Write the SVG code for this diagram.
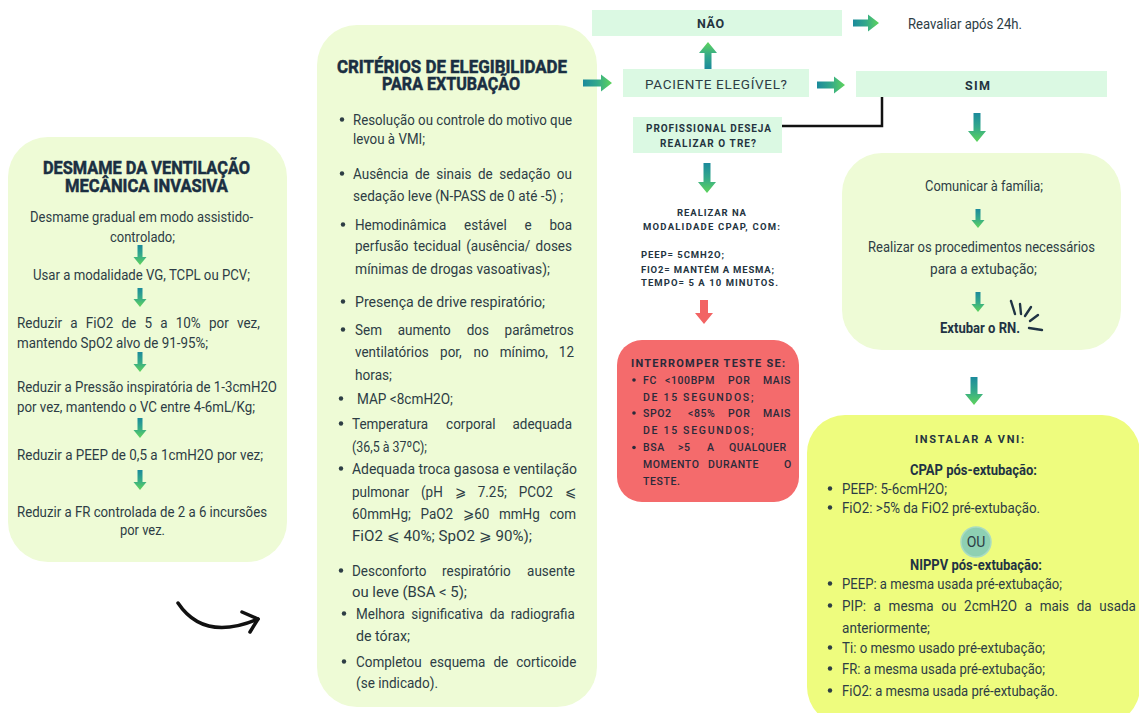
<svg xmlns="http://www.w3.org/2000/svg" width="1139" height="713" viewBox="0 0 1139 713">
<defs>
<linearGradient id="gh" x1="0" y1="0" x2="1" y2="0"><stop offset="0" stop-color="#1b8a9c"/><stop offset="0.5" stop-color="#34a98a"/><stop offset="1" stop-color="#5fd45c"/></linearGradient>
<linearGradient id="gv" x1="0" y1="0" x2="0" y2="1"><stop offset="0" stop-color="#1b8a9c"/><stop offset="0.5" stop-color="#34a98a"/><stop offset="1" stop-color="#5fd45c"/></linearGradient>
<linearGradient id="gu" x1="0" y1="1" x2="0" y2="0"><stop offset="0" stop-color="#1b8a9c"/><stop offset="0.5" stop-color="#34a98a"/><stop offset="1" stop-color="#5fd45c"/></linearGradient>
</defs>
<style>
text{font-family:Roboto,"Liberation Sans",sans-serif;}
.pale{fill:#eefbd6;}
.mint{fill:#dbf9e3;}
.b{font-size:15px;fill:#2d3d45;}
.h{font-size:18px;font-weight:700;fill:#1a2f42;stroke:#1a2f42;stroke-width:0.5;}
.c{font-size:10px;font-weight:700;fill:#24343f;}
.k{font-size:12.5px;font-weight:700;fill:#24343f;}
.r{font-size:10.5px;font-weight:500;fill:#2a2a3a;letter-spacing:0.6px;}
.dot{fill:#2d3d45;}
.ah{fill:url(#gh);}
.av{fill:url(#gv);}
.au{fill:url(#gu);}
</style>
<rect width="1139" height="713" fill="#ffffff"/>

<g id="desmame">
<rect class="pale" x="8" y="137" width="279" height="425" rx="40"/>
<text class="h" x="43" y="174" textLength="207" lengthAdjust="spacingAndGlyphs">DESMAME DA VENTILAÇÃO</text>
<text class="h" x="65" y="192" textLength="163" lengthAdjust="spacingAndGlyphs">MECÂNICA INVASIVA</text>
<text class="b" x="30" y="222" textLength="223" lengthAdjust="spacingAndGlyphs">Desmame gradual em modo assistido-</text>
<text class="b" x="110" y="242" textLength="65" lengthAdjust="spacingAndGlyphs">controlado;</text>
<text class="b" x="33" y="280" textLength="217" lengthAdjust="spacingAndGlyphs">Usar a modalidade VG, TCPL ou PCV;</text>
<text class="b" transform="scale(0.9 1)" y="328"><tspan x="18.89">Reduzir</tspan><tspan x="78.02">a</tspan><tspan x="95.26">FiO2</tspan><tspan x="135.02">de</tspan><tspan x="160.5">5</tspan><tspan x="178.01">a</tspan><tspan x="195.24">10%</tspan><tspan x="232.18">por</tspan><tspan x="263.29">vez,</tspan></text>
<text class="b" x="17" y="348" textLength="191" lengthAdjust="spacingAndGlyphs">mantendo SpO2 alvo de 91-95%;</text>
<text class="b" x="17" y="392" textLength="260" lengthAdjust="spacingAndGlyphs">Reduzir a Pressão inspiratória de 1-3cmH2O</text>
<text class="b" x="17" y="412" textLength="238" lengthAdjust="spacingAndGlyphs">por vez, mantendo o VC entre 4-6mL/Kg;</text>
<text class="b" x="17" y="460" textLength="246" lengthAdjust="spacingAndGlyphs">Reduzir a PEEP de 0,5 a 1cmH2O por vez;</text>
<text class="b" x="17" y="517" textLength="250" lengthAdjust="spacingAndGlyphs">Reduzir a FR controlada de 2 a 6 incursões</text>
<text class="b" x="120" y="535" textLength="45" lengthAdjust="spacingAndGlyphs">por vez.</text>
<path class="av" d="M137.5,245 L142.5,245 L142.5,257 L146.5,257 L140,265 L133.5,257 L137.5,257Z"/>
<path class="av" d="M137.5,288 L142.5,288 L142.5,299 L146.5,299 L140,307 L133.5,299 L137.5,299Z"/>
<path class="av" d="M137.5,352 L142.5,352 L142.5,364 L146.5,364 L140,372 L133.5,364 L137.5,364Z"/>
<path class="av" d="M137.5,418 L142.5,418 L142.5,430 L146.5,430 L140,438 L133.5,430 L137.5,430Z"/>
<path class="av" d="M137.5,470 L142.5,470 L142.5,482 L146.5,482 L140,490 L133.5,482 L137.5,482Z"/>
</g>

<g id="criterios">
<rect class="pale" x="317" y="25" width="280" height="682" rx="40"/>
<text class="h" x="337" y="73" textLength="230" lengthAdjust="spacingAndGlyphs">CRITÉRIOS DE ELEGIBILIDADE</text>
<text class="h" x="382" y="90" textLength="138" lengthAdjust="spacingAndGlyphs">PARA EXTUBAÇÃO</text>
<circle class="dot" cx="342" cy="119.5" r="2.2"/>
<text class="b" x="353" y="125" textLength="219" lengthAdjust="spacingAndGlyphs">Resolução ou controle do motivo que</text>
<text class="b" x="353" y="144" textLength="72" lengthAdjust="spacingAndGlyphs">levou à VMI;</text>
<circle class="dot" cx="342" cy="173.5" r="2.2"/>
<text class="b" transform="scale(0.9 1)" y="179"><tspan x="392.22">Ausência</tspan><tspan x="461.09">de</tspan><tspan x="484.69">sinais</tspan><tspan x="531.1">de</tspan><tspan x="554.7">sedação</tspan><tspan x="618.76">ou</tspan></text>
<text class="b" x="353" y="201" textLength="210" lengthAdjust="spacingAndGlyphs">sedação leve (N-PASS de 0 até -5) ;</text>
<circle class="dot" cx="343" cy="224.5" r="2.2"/>
<text class="b" transform="scale(0.9 1)" y="230"><tspan x="394.44">Hemodinâmica</tspan><tspan x="515.69">estável</tspan><tspan x="582.89">e</tspan><tspan x="610.43">boa</tspan></text>
<text class="b" transform="scale(0.9 1)" y="251"><tspan x="394.44">perfusão</tspan><tspan x="459.5">tecidual</tspan><tspan x="518.06">(ausência/</tspan><tspan x="595.11">doses</tspan></text>
<text class="b" x="355" y="274" textLength="195" lengthAdjust="spacingAndGlyphs">mínimas de drogas vasoativas);</text>
<circle class="dot" cx="343" cy="301.5" r="2.2"/>
<text class="b" x="355" y="307" textLength="190" lengthAdjust="spacingAndGlyphs">Presença de drive respiratório;</text>
<circle class="dot" cx="343" cy="329.5" r="2.2"/>
<text class="b" transform="scale(0.9 1)" y="335"><tspan x="394.44">Sem</tspan><tspan x="441.84">aumento</tspan><tspan x="518.51">dos</tspan><tspan x="560.66">parâmetros</tspan></text>
<text class="b" transform="scale(0.9 1)" y="357"><tspan x="394.44">ventilatórios</tspan><tspan x="489">por,</tspan><tspan x="526.23">no</tspan><tspan x="555.32">mínimo,</tspan><tspan x="620.92">12</tspan></text>
<text class="b" x="355" y="380" textLength="37" lengthAdjust="spacingAndGlyphs">horas;</text>
<circle class="dot" cx="341" cy="398.5" r="2.2"/>
<text class="b" x="357" y="404" textLength="96" lengthAdjust="spacingAndGlyphs">MAP &lt;8cmH2O;</text>
<circle class="dot" cx="341" cy="423.5" r="2.2"/>
<text class="b" transform="scale(0.9 1)" y="429"><tspan x="391.11">Temperatura</tspan><tspan x="495.66">corporal</tspan><tspan x="569.46">adequada</tspan></text>
<text class="b" x="352" y="452" textLength="75" lengthAdjust="spacingAndGlyphs">(36,5 à 37ºC);</text>
<circle class="dot" cx="341" cy="468.5" r="2.2"/>
<text class="b" x="352" y="474" textLength="225" lengthAdjust="spacingAndGlyphs">Adequada troca gasosa e ventilação</text>
<text class="b" transform="scale(0.9 1)" y="497"><tspan x="391.11">pulmonar</tspan><tspan x="467.74">(pH</tspan><tspan x="505.1">⩾</tspan><tspan x="530.78">7.25;</tspan><tspan x="576.3">PCO2</tspan><tspan x="627.41">⩽</tspan></text>
<text class="b" transform="scale(0.9 1)" y="519"><tspan x="391.11">60mmHg;</tspan><tspan x="467.23">PaO2</tspan><tspan x="514.3">⩾60</tspan><tspan x="554.42">mmHg</tspan><tspan x="610.5">com</tspan></text>
<text class="b" x="352" y="541" textLength="180" lengthAdjust="spacingAndGlyphs">FiO2 ⩽ 40%; SpO2 ⩾ 90%);</text>
<circle class="dot" cx="341" cy="570.5" r="2.2"/>
<text class="b" transform="scale(0.9 1)" y="576"><tspan x="391.11">Desconforto</tspan><tspan x="491.24">respiratório</tspan><tspan x="585.68">ausente</tspan></text>
<text class="b" x="352" y="597" textLength="115" lengthAdjust="spacingAndGlyphs">ou leve (BSA &lt; 5);</text>
<circle class="dot" cx="344" cy="613.5" r="2.2"/>
<text class="b" transform="scale(0.9 1)" y="619"><tspan x="395.56">Melhora</tspan><tspan x="456.96">significativa</tspan><tspan x="544.18">da</tspan><tspan x="567.44">radiografia</tspan></text>
<text class="b" x="356" y="641" textLength="54" lengthAdjust="spacingAndGlyphs">de tórax;</text>
<circle class="dot" cx="344" cy="661.5" r="2.2"/>
<text class="b" transform="scale(0.9 1)" y="667"><tspan x="395.56">Completou</tspan><tspan x="477.64">esquema</tspan><tspan x="548.26">de</tspan><tspan x="573.54">corticoide</tspan></text>
<text class="b" x="356" y="688" textLength="82" lengthAdjust="spacingAndGlyphs">(se indicado).</text>
</g>

<g id="nao">
<rect class="mint" x="592" y="10" width="250" height="26"/>
<text class="k" x="697" y="28" textLength="27" lengthAdjust="spacing">NÃO</text>
</g>
<g id="reavaliar">
<text class="b" style="font-size:14px" x="908" y="29" textLength="114" lengthAdjust="spacingAndGlyphs">Reavaliar após 24h.</text>
</g>
<g id="elegivel">
<rect class="mint" x="623" y="69" width="186" height="28"/>
<text style="font-size:13.5px;fill:#2d3d45" x="645" y="89" textLength="142" lengthAdjust="spacing">PACIENTE ELEGÍVEL?</text>
</g>
<g id="sim">
<rect class="mint" x="856" y="71" width="251" height="26"/>
<text class="k" x="965" y="90" textLength="25" lengthAdjust="spacing">SIM</text>
</g>
<g id="tre">
<rect class="mint" x="633" y="117" width="149" height="36"/>
<text class="c" x="646" y="132" textLength="125" lengthAdjust="spacing">PROFISSIONAL DESEJA</text>
<text class="c" x="660" y="147" textLength="96" lengthAdjust="spacing">REALIZAR O TRE?</text>
</g>
<g id="cpap-teste">
<text class="c" style="font-size:9.5px" x="677" y="216" textLength="69" lengthAdjust="spacing">REALIZAR NA</text>
<text class="c" style="font-size:9.5px" x="643" y="230" textLength="137" lengthAdjust="spacing">MODALIDADE CPAP, COM:</text>
<text class="c" style="font-size:9.5px" x="641" y="258" textLength="83" lengthAdjust="spacing">PEEP= 5CMH2O;</text>
<text class="c" style="font-size:9.5px" x="641" y="273" textLength="133" lengthAdjust="spacing">FIO2= MANTÉM A MESMA;</text>
<text class="c" style="font-size:9.5px" x="641" y="286" textLength="137" lengthAdjust="spacing">TEMPO= 5 A 10 MINUTOS.</text>
</g>
<g id="interromper">
<rect x="617" y="340" width="182" height="162" rx="25" fill="#f46b6c"/>
<text class="c" style="font-size:11px;fill:#2a2a3a" x="631" y="367" textLength="154" lengthAdjust="spacing">INTERROMPER TESTE SE:</text>
<circle cx="634" cy="380" r="1.8" fill="#2a2a3a"/>
<text class="r" y="384"><tspan x="643">FC</tspan><tspan x="665">&lt;100BPM</tspan><tspan x="728">POR</tspan><tspan x="763">MAIS</tspan></text>
<text class="r" x="643" y="401" textLength="111" lengthAdjust="spacing">DE 15 SEGUNDOS;</text>
<circle cx="634" cy="413" r="1.8" fill="#2a2a3a"/>
<text class="r" y="417"><tspan x="643">SPO2</tspan><tspan x="688">&lt;85%</tspan><tspan x="728">POR</tspan><tspan x="763">MAIS</tspan></text>
<text class="r" x="643" y="434" textLength="111" lengthAdjust="spacing">DE 15 SEGUNDOS;</text>
<circle cx="634" cy="447.5" r="1.8" fill="#2a2a3a"/>
<text class="r" y="451"><tspan x="643">BSA</tspan><tspan x="678">&gt;5</tspan><tspan x="707">A</tspan><tspan x="729">QUALQUER</tspan></text>
<text class="r" y="468"><tspan x="643">MOMENTO</tspan><tspan x="708">DURANTE</tspan><tspan x="784">O</tspan></text>
<text class="r" x="643" y="485">TESTE.</text>
</g>

<g id="extubar">
<rect class="pale" x="842" y="153" width="279" height="197" rx="40"/>
<text class="b" x="925" y="191" textLength="118" lengthAdjust="spacingAndGlyphs">Comunicar à família;</text>
<text class="b" x="868" y="252" textLength="227" lengthAdjust="spacingAndGlyphs">Realizar os procedimentos necessários</text>
<text class="b" x="930" y="274" textLength="107" lengthAdjust="spacingAndGlyphs">para a extubação;</text>
<text class="b" style="font-weight:700;fill:#1f3344" x="940" y="333" textLength="80" lengthAdjust="spacingAndGlyphs">Extubar o RN.</text>
<path class="av" d="M975.5,209 L980.5,209 L980.5,220 L984.5,220 L978,228 L971.5,220 L975.5,220Z"/>
<path class="av" d="M975.5,292 L980.5,292 L980.5,304 L984.5,304 L978,312 L971.5,304 L975.5,304Z"/>
<g stroke="#1f3344" stroke-width="2.4" stroke-linecap="round" fill="none">
<path d="M1011,301 L1015,314"/>
<path d="M1020,304 L1021,314"/>
<path d="M1031,307 L1025,316"/>
<path d="M1038,315 L1030,321"/>
<path d="M1029,328 L1042,330"/>
</g>
</g>

<g id="vni">
<rect x="807" y="415" width="333" height="310" rx="38" fill="#eefc7e"/>
<text class="c" style="font-size:11px" x="915" y="443" textLength="109" lengthAdjust="spacing">INSTALAR A VNI:</text>
<text class="b" style="font-weight:700;fill:#1f3344" x="910" y="475" textLength="127" lengthAdjust="spacingAndGlyphs">CPAP pós-extubação:</text>
<circle class="dot" cx="830" cy="488.5" r="2.2"/>
<text class="b" x="842" y="494" textLength="105" lengthAdjust="spacingAndGlyphs">PEEP: 5-6cmH2O;</text>
<circle class="dot" cx="830" cy="507.5" r="2.2"/>
<text class="b" x="842" y="513" textLength="198" lengthAdjust="spacingAndGlyphs">FiO2: &gt;5% da FiO2 pré-extubação.</text>
<circle cx="976" cy="542" r="15" fill="#8ed0b3" stroke="#a9dcc3" stroke-width="1.5"/>
<text class="b" style="font-size:14px" x="976" y="547" text-anchor="middle">OU</text>
<text class="b" style="font-weight:700;fill:#1f3344" x="910" y="570" textLength="132" lengthAdjust="spacingAndGlyphs">NIPPV pós-extubação:</text>
<circle class="dot" cx="830" cy="583.5" r="2.2"/>
<text class="b" x="842" y="589" textLength="220" lengthAdjust="spacingAndGlyphs">PEEP: a mesma usada pré-extubação;</text>
<circle class="dot" cx="830" cy="605.5" r="2.2"/>
<text class="b" transform="scale(0.9 1)" y="611"><tspan x="935.56">PIP:</tspan><tspan x="970.68">a</tspan><tspan x="987.31">mesma</tspan><tspan x="1045.92">ou</tspan><tspan x="1071.21">2cmH2O</tspan><tspan x="1138.54">a</tspan><tspan x="1155.18">mais</tspan><tspan x="1196.34">da</tspan><tspan x="1221.42">usada</tspan></text>
<text class="b" x="842" y="633" textLength="88" lengthAdjust="spacingAndGlyphs">anteriormente;</text>
<circle class="dot" cx="830" cy="647.5" r="2.2"/>
<text class="b" x="842" y="653" textLength="203" lengthAdjust="spacingAndGlyphs">Ti: o mesmo usado pré-extubação;</text>
<circle class="dot" cx="830" cy="668.5" r="2.2"/>
<text class="b" x="842" y="674" textLength="203" lengthAdjust="spacingAndGlyphs">FR: a mesma usada pré-extubação;</text>
<circle class="dot" cx="830" cy="690.5" r="2.2"/>
<text class="b" x="842" y="696" textLength="216" lengthAdjust="spacingAndGlyphs">FiO2: a mesma usada pré-extubação.</text>
</g>

<g id="connectors">
<path class="ah" d="M583,79.5 L601,79.5 L601,74.5 L612,83 L601,91.5 L601,86.5 L583,86.5Z"/>
<path class="ah" d="M817,81.5 L834,81.5 L834,76.5 L845,85 L834,93.5 L834,88.5 L817,88.5Z"/>
<path class="ah" d="M853,19.5 L868,19.5 L868,14.5 L879,23 L868,31.5 L868,26.5 L853,26.5Z"/>
<path class="au" d="M704.5,69 L711.5,69 L711.5,53 L717,53 L708,42 L699,53 L704.5,53Z"/>
<path class="av" d="M703.5,163 L710.5,163 L710.5,182 L716,182 L707,193 L698,182 L703.5,182Z"/>
<path class="av" d="M973.5,113 L980.5,113 L980.5,131 L986,131 L977,142 L968,131 L973.5,131Z"/>
<path class="av" d="M970.5,377 L977.5,377 L977.5,394 L983,394 L974,405 L965,394 L970.5,394Z"/>
<path d="M700,300 L708,300 L708,313 L713,313 L704,324 L695,313 L700,313Z" fill="#f26464"/>
<polyline points="782,126 882,126 882,97" fill="none" stroke="#111111" stroke-width="2.5"/>
<path d="M178,603 Q204,642 258,619" fill="none" stroke="#111111" stroke-width="3.5" stroke-linecap="round"/>
<path d="M242,612 L258,619 L250,632" fill="none" stroke="#111111" stroke-width="3.5" stroke-linecap="round" stroke-linejoin="round"/>
</g>
</svg>
